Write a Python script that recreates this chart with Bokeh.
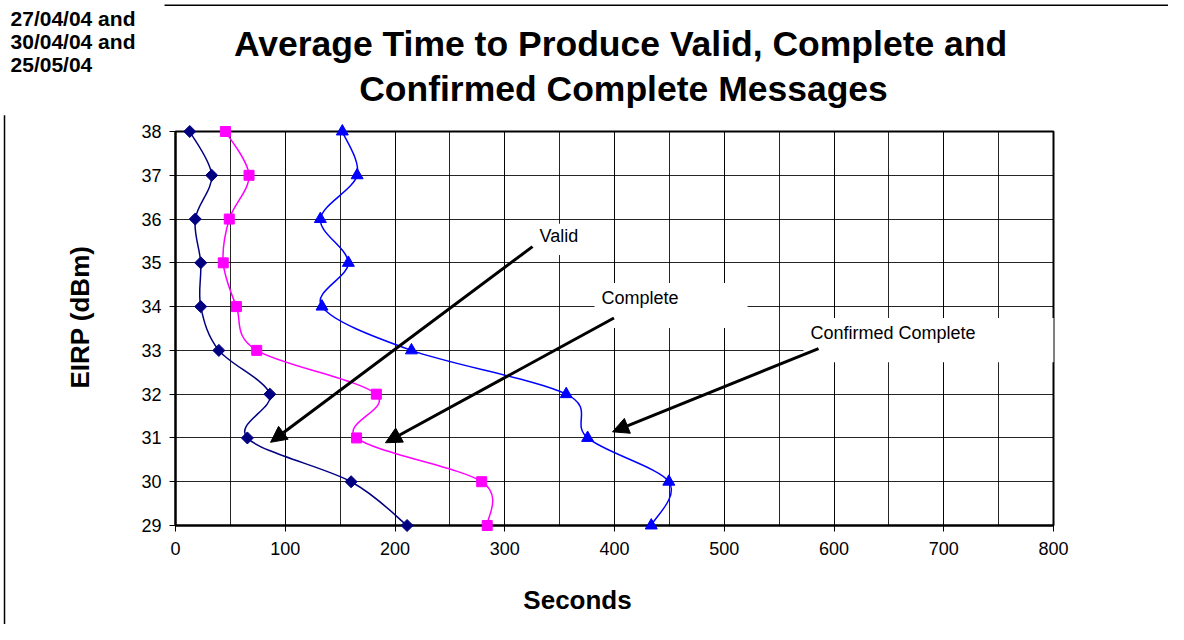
import numpy as np
from bokeh.plotting import figure
from bokeh.models import (Range1d, SingleIntervalTicker, Label, Arrow, NormalHead,
                          BoxAnnotation)
from bokeh.core.properties import value
from bokeh.embed import file_html
from bokeh.resources import INLINE

# ---------------- data ----------------
eirp = [38, 37, 36, 35, 34, 33, 32, 31, 30, 29]
valid_s = [13, 33, 18, 23, 23, 39.5, 86, 65.5, 160, 211]
complete_s = [45.5, 67, 49, 43.5, 55.5, 74, 183, 165, 279, 284]
confirmed_s = [152, 165.5, 132, 157.5, 133.5, 215, 356, 375.5, 449.5, 433.5]

title_lines = ["Average Time to Produce Valid, Complete and", "Confirmed Complete Messages"]
date_lines = ["27/04/04 and", "30/04/04 and", "25/05/04"]
x_label = "Seconds"
y_label = "EIRP (dBm)"

FONT = "Liberation Sans"

p = figure(width=1168, height=624, x_range=Range1d(0, 800), y_range=Range1d(29, 38),
           output_backend="svg", toolbar_location=None, title=None,
           min_border_left=175, min_border_right=115, min_border_top=131,
           min_border_bottom=99)
p.background_fill_color = "white"
p.border_fill_color = "white"
p.outline_line_color = "black"
p.outline_line_width = 2

# axes
p.xaxis.ticker = SingleIntervalTicker(interval=100, num_minor_ticks=2)
p.yaxis.ticker = SingleIntervalTicker(interval=1, num_minor_ticks=0)
for ax in (p.xaxis, p.yaxis):
    ax.axis_line_color = "black"
    ax.axis_line_width = 2
    ax.major_tick_line_color = "black"
    ax.major_tick_line_width = 1
    ax.major_tick_out = 6
    ax.major_tick_in = 0
    ax.minor_tick_line_color = None
    ax.major_label_text_font = FONT
    ax.major_label_text_font_size = "18px"
    ax.major_label_text_color = "black"
p.xaxis.major_label_standoff = 10
p.yaxis.major_label_standoff = 8

# grid
p.xgrid.ticker = p.xaxis.ticker
p.xgrid.grid_line_color = "black"
p.xgrid.grid_line_width = 1
p.xgrid.grid_line_alpha = 0.85
p.xgrid.minor_grid_line_color = "black"
p.xgrid.minor_grid_line_alpha = 0.85
p.ygrid.grid_line_color = "black"
p.ygrid.grid_line_alpha = 0.85


def smooth(xs, ys):
    x = np.asarray(xs, float)
    y = np.asarray(ys, float)
    n = len(x)
    xp = np.concatenate([[x[0]], x, [x[-1]]])
    yp = np.concatenate([[y[0]], y, [y[-1]]])
    cx0 = x[:-1] + (xp[2:n + 1] - xp[0:n - 1]) / 6.0
    cy0 = y[:-1] + (yp[2:n + 1] - yp[0:n - 1]) / 6.0
    cx1 = x[1:] - (xp[3:n + 2] - xp[1:n]) / 6.0
    cy1 = y[1:] - (yp[3:n + 2] - yp[1:n]) / 6.0
    return dict(x0=x[:-1], y0=y[:-1], x1=x[1:], y1=y[1:], cx0=cx0, cy0=cy0, cx1=cx1, cy1=cy1)


series = [
    (valid_s, "#000080", dict(marker="square", size=8.5, angle=np.pi / 4)),
    (complete_s, "#FF00FF", dict(marker="square", size=10)),
    (confirmed_s, "#0000FF", dict(marker="triangle", size=12)),
]
for vals, col, mk in series:
    p.bezier(line_color=col, line_width=1.5, **smooth(vals, eirp))

# white boxes behind annotation texts
for l, r, t, b in [(326, 378, 35.89, 35.18), (381.8, 521.2, 34.54, 33.51), (572.2, 808, 33.74, 32.73)]:
    p.add_layout(BoxAnnotation(left=l, right=r, top=t, bottom=b, fill_color="white",
                               fill_alpha=1, line_color=None))

# arrows
for xs, ys, xe, ye in [(325.3, 35.37, 86.6, 30.9), (399.5, 33.74, 191.3, 30.89), (585.9, 33.04, 398.2, 31.14)]:
    p.add_layout(Arrow(end=NormalHead(size=16, fill_color="black", line_color="black"),
                       x_start=xs, y_start=ys, x_end=xe, y_end=ye,
                       line_color="black", line_width=3))

for txt, x, y in [("Valid", 331.7, 35.61), ("Complete", 388.2, 34.19), ("Confirmed Complete", 578.6, 33.39)]:
    p.add_layout(Label(x=x, y=y, text=txt, text_font=FONT, text_font_size="18px",
                       text_baseline="middle", text_align="left", text_color="black"))

# markers (overlay so they are not clipped at the frame edge)
for vals, col, mk in series:
    r = p.scatter(vals, eirp, fill_color=col, line_color=col, **mk)
    r.level = "overlay"

# page texts as text glyphs at overlay level (outside the frame)
t = p.text(x=[405.5, 408.2], y=[39.99, 38.98], text=title_lines,
           text_font=value(FONT), text_font_size=value("35.5px"), text_font_style="bold",
           text_align="center", text_baseline="middle", text_color="black")
t.level = "overlay"
t = p.text(x=[-150.3] * 3, y=[40.58, 40.06, 39.53], text=date_lines,
           text_font=value(FONT), text_font_size=value("21px"), text_font_style="bold",
           text_align="left", text_baseline="middle", text_color="black")
t.level = "overlay"
t = p.text(x=[366.3], y=[27.29], text=[x_label],
           text_font=value(FONT), text_font_size=value("26px"), text_font_style="bold",
           text_align="center", text_baseline="middle", text_color="black")
t.level = "overlay"
t = p.text(x=[-86.6], y=[33.76], text=[y_label], angle=np.pi / 2,
           text_font=value(FONT), text_font_size=value("26px"), text_font_style="bold",
           text_align="center", text_baseline="middle", text_color="black")
t.level = "overlay"

# page rules (top line and left line)
s = p.segment(x0=[-10, -155.8], y0=[40.885, 38.37], x1=[919, -155.8], y1=[40.885, 26.0],
              line_color="black", line_width=1.5)
s.level = "overlay"

open("out.html", "w").write(file_html(p, INLINE))
